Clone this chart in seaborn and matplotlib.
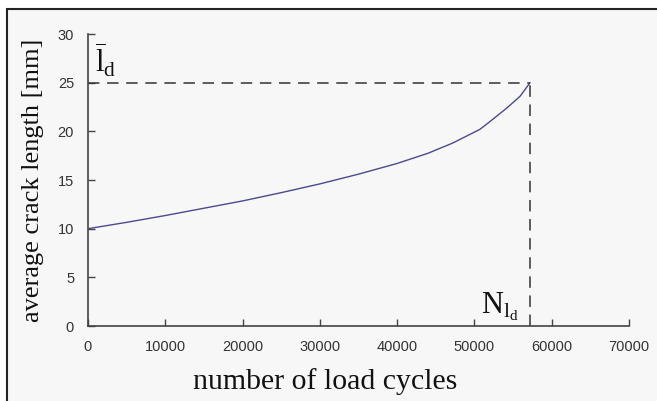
import numpy as np
import pandas as pd
import seaborn as sns
import matplotlib.pyplot as plt
from matplotlib.patches import Rectangle

# data
cycles = [0, 5000, 10000, 15000, 20000, 25000, 30000, 35000, 40000,
          44000, 47200, 50700, 52000, 54200, 55900, 57200]
crack_len = [10.0, 10.65, 11.35, 12.1, 12.85, 13.7, 14.6, 15.6, 16.7,
             17.75, 18.8, 20.2, 21.0, 22.4, 23.6, 25.0]
N_d = 57200
l_d = 25
x_ticks = [0, 10000, 20000, 30000, 40000, 50000, 60000, 70000]
y_ticks = [0, 5, 10, 15, 20, 25, 30]

sns.set_theme(style='ticks')
plt.rcParams['font.family'] = ['Liberation Sans', 'DejaVu Sans']
plt.rcParams['mathtext.fontset'] = 'custom'
plt.rcParams['mathtext.rm'] = 'Liberation Serif'
plt.rcParams['mathtext.it'] = 'Liberation Serif:italic'

bg = '#f7f7f7'
fig = plt.figure(figsize=(6.57, 4.01), dpi=100, facecolor='white')
# panel frame, open on the right and bottom
fig.patches.append(Rectangle((7 / 657, -0.1), 1.2, (401 - 9) / 401 + 0.1,
                             transform=fig.transFigure, facecolor=bg,
                             edgecolor='#222222', lw=1.5, zorder=-1))
ax = fig.add_axes([88 / 657, 75 / 401, 541 / 657, 292 / 401])
ax.set_facecolor('none')

df = pd.DataFrame({'cycles': cycles, 'crack': crack_len})
sns.lineplot(data=df, x='cycles', y='crack', ax=ax, color='#4a4a8e', lw=1.0)

# dashed guide lines
ax.plot([0, N_d], [l_d, l_d], color='#333333', lw=1.1, dashes=(7.5, 5))
ax.plot([N_d, N_d], [0, l_d], color='#333333', lw=1.1, dashes=(7.5, 5))

ax.set_xlim(0, 70000)
ax.set_ylim(0, 30)
ax.set_xticks(x_ticks)
ax.set_yticks(y_ticks)
ax.tick_params(direction='in', length=5, width=1, color='#444444',
               labelsize=10.5, labelcolor='#333333', pad=10)
for s in ['left', 'bottom']:
    ax.spines[s].set_color('#444444')
    ax.spines[s].set_linewidth(1.2)
sns.despine(ax=ax)

ax.set_xlabel('number of load cycles', family='Liberation Serif',
              fontsize=21.5, color='#111111')
ax.xaxis.set_label_coords(0.438, -0.145)
ax.set_ylabel('average crack length [mm]', family='Liberation Serif',
              fontsize=19, color='#111111', labelpad=10)

ax.text(900, 25.3, r'$\overline{\mathrm{l}}_\mathrm{d}$', fontsize=22,
        color='#111111', va='bottom', ha='left')
ax.text(50900, 0.3, r'$\mathrm{N}_{\mathrm{l}_\mathrm{d}}$', fontsize=22,
        color='#111111', va='bottom', ha='left')

fig.savefig('out.png', dpi=100, facecolor=fig.get_facecolor())
